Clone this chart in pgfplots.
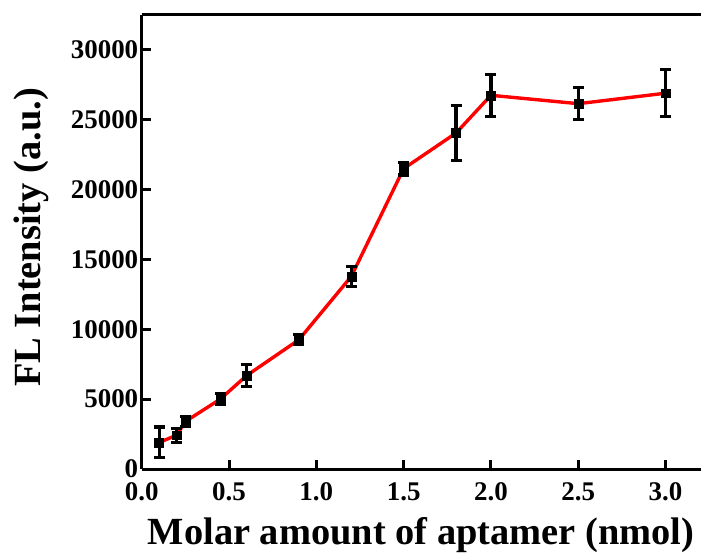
\documentclass[border=0pt]{standalone}
\usepackage{fontspec}
\setmainfont{Liberation Serif}
\usepackage{pgfplots}
\usepackage{pgfplotstable}
\pgfplotsset{compat=1.18}
\pgfplotstableread{
x y e
0.10 1900 1100
0.20 2420 500
0.25 3400 330
0.45 5000 400
0.60 6680 800
0.90 9250 350
1.20 13780 700
1.50 21500 450
1.80 24050 1950
2.00 26750 1490
2.50 26150 1130
3.00 26900 1680
}\datatable
\begin{document}
\begin{tikzpicture}
\begin{axis}[
  at={(0,0)}, anchor=south west,
  scale only axis, width=560pt, height=455pt,
  xmin=0, xmax=3.2, ymin=0, ymax=32500,
  axis x line*=bottom, axis y line*=left,
  axis line style={line width=3pt, -},
  xtick={0,0.5,1,1.5,2,2.5,3},
  ytick={0,5000,10000,15000,20000,25000,30000},
  minor tick num=0,
  tick align=inside,
  major tick length=9pt,
  tick style={line width=3pt, black},
  xticklabel style={/pgf/number format/fixed, /pgf/number format/fixed zerofill, /pgf/number format/precision=1, yshift=-12.5pt},
  yticklabel style={/pgf/number format/1000 sep={}, xshift=-2.3pt},
  /pgf/number format/assume math mode=true,
  scaled x ticks=false, scaled y ticks=false,
  tick label style={font=\bfseries\fontsize{27}{27}\selectfont, inner sep=1pt},
  xlabel={Molar amount of aptamer (nmol)},
  ylabel={FL Intensity (a.u.)},
  label style={font=\bfseries\fontsize{38.5}{38.5}\selectfont},
  xlabel style={at={(axis description cs:0.5,0)}, anchor=base, yshift=-76pt},
  ylabel style={at={([xshift=-101pt]axis description cs:0,0.51)}, anchor=base},
  clip=false,
]
\addplot[red, line width=3.4pt] table[x=x, y=y] {\datatable};
\addplot[black, only marks, mark=square*, mark size=4.5pt,
  error bars/.cd, y dir=both, y explicit,
  error bar style={line width=3.2pt, black},
  error mark options={rotate=90, mark size=5.5pt, line width=3.2pt, black}]
  table[x=x, y=y, y error=e] {\datatable};
\draw[line width=3pt] (rel axis cs:0,1) -- (rel axis cs:1,1);
\end{axis}
\path[use as bounding box] (-142pt,-87pt) rectangle (560pt,470pt);
\end{tikzpicture}
\end{document}
